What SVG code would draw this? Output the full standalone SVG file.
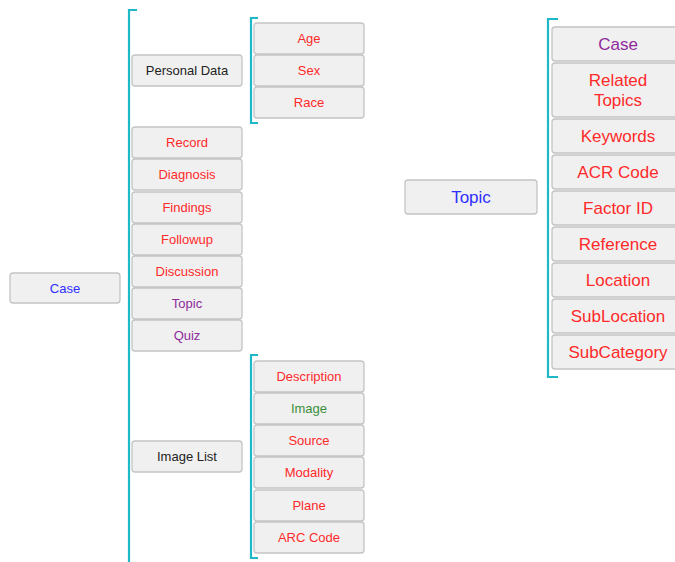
<svg xmlns="http://www.w3.org/2000/svg" width="675" height="562" viewBox="0 0 675 562">
<style>
.b{fill:#f0f0f0;stroke:#c4c4c4;stroke-width:1.3}
.t{font-family:"Liberation Sans",Arial,sans-serif;font-size:13px;text-anchor:middle;dominant-baseline:central}
.T{font-family:"Liberation Sans",Arial,sans-serif;font-size:17px;text-anchor:middle;dominant-baseline:central}
.r{fill:#ff2a2a}.p{fill:#8e2a9c}.u{fill:#2f2fff}.k{fill:#222}.g{fill:#3a8f3a}
.br{fill:none;stroke:#1fb8c8;stroke-width:2.2}
</style>
<rect width="675" height="562" fill="#fff"/>
<g id="connectors">
<path class="br" d="M137,10 H129 V565"/>
<path class="br" d="M258,18 H251 V123 H258"/>
<path class="br" d="M258,355 H251 V558 H258"/>
<path class="br" d="M558,19 H548 V377 H558"/>
</g>
<g id="case"><rect class="b" x="10" y="273" width="110" height="30" rx="3"/><text class="t u" x="65" y="288">Case</text></g>
<g id="personal-data"><rect class="b" x="132" y="55" width="110" height="31" rx="3"/><text class="t k" x="187" y="70.5">Personal Data</text></g>
<g id="age"><rect class="b" x="254" y="23" width="110" height="31" rx="3"/><text class="t r" x="309" y="38.5">Age</text></g>
<g id="sex"><rect class="b" x="254" y="55" width="110" height="31" rx="3"/><text class="t r" x="309" y="70.5">Sex</text></g>
<g id="race"><rect class="b" x="254" y="87" width="110" height="31" rx="3"/><text class="t r" x="309" y="102.5">Race</text></g>
<g id="record"><rect class="b" x="132" y="127" width="110" height="31" rx="3"/><text class="t r" x="187" y="142.5">Record</text></g>
<g id="diagnosis"><rect class="b" x="132" y="159" width="110" height="31" rx="3"/><text class="t r" x="187" y="174.5">Diagnosis</text></g>
<g id="findings"><rect class="b" x="132" y="192" width="110" height="31" rx="3"/><text class="t r" x="187" y="207.5">Findings</text></g>
<g id="followup"><rect class="b" x="132" y="224" width="110" height="31" rx="3"/><text class="t r" x="187" y="239.5">Followup</text></g>
<g id="discussion"><rect class="b" x="132" y="256" width="110" height="31" rx="3"/><text class="t r" x="187" y="271.5">Discussion</text></g>
<g id="topic-l"><rect class="b" x="132" y="288" width="110" height="31" rx="3"/><text class="t p" x="187" y="303.5">Topic</text></g>
<g id="quiz"><rect class="b" x="132" y="320" width="110" height="31" rx="3"/><text class="t p" x="187" y="335.5">Quiz</text></g>
<g id="image-list"><rect class="b" x="132" y="441" width="110" height="31" rx="3"/><text class="t k" x="187" y="456.5">Image List</text></g>
<g id="description"><rect class="b" x="254" y="361" width="110" height="31" rx="3"/><text class="t r" x="309" y="376.5">Description</text></g>
<g id="image"><rect class="b" x="254" y="393" width="110" height="31" rx="3"/><text class="t g" x="309" y="408.5">Image</text></g>
<g id="source"><rect class="b" x="254" y="425" width="110" height="31" rx="3"/><text class="t r" x="309" y="440.5">Source</text></g>
<g id="modality"><rect class="b" x="254" y="457" width="110" height="31" rx="3"/><text class="t r" x="309" y="472.5">Modality</text></g>
<g id="plane"><rect class="b" x="254" y="490" width="110" height="31" rx="3"/><text class="t r" x="309" y="505.5">Plane</text></g>
<g id="arc-code"><rect class="b" x="254" y="522" width="110" height="31" rx="3"/><text class="t r" x="309" y="537.5">ARC Code</text></g>
<g id="topic"><rect class="b" x="405" y="180" width="132" height="34" rx="3"/><text class="T u" x="471" y="197">Topic</text></g>
<g id="r-case"><rect class="b" x="552" y="27" width="132" height="34" rx="3"/><text class="T p" x="618" y="44">Case</text></g>
<g id="related-topics"><rect class="b" x="552" y="63" width="132" height="54" rx="3"/><text class="T r" x="618" y="80">Related</text><text class="T r" x="618" y="100">Topics</text></g>
<g id="keywords"><rect class="b" x="552" y="119" width="132" height="34" rx="3"/><text class="T r" x="618" y="136">Keywords</text></g>
<g id="acr-code"><rect class="b" x="552" y="155" width="132" height="34" rx="3"/><text class="T r" x="618" y="172">ACR Code</text></g>
<g id="factor-id"><rect class="b" x="552" y="191" width="132" height="34" rx="3"/><text class="T r" x="618" y="208">Factor ID</text></g>
<g id="reference"><rect class="b" x="552" y="227" width="132" height="34" rx="3"/><text class="T r" x="618" y="244">Reference</text></g>
<g id="location"><rect class="b" x="552" y="263" width="132" height="34" rx="3"/><text class="T r" x="618" y="280">Location</text></g>
<g id="sublocation"><rect class="b" x="552" y="299" width="132" height="34" rx="3"/><text class="T r" x="618" y="316">SubLocation</text></g>
<g id="subcategory"><rect class="b" x="552" y="335" width="132" height="34" rx="3"/><text class="T r" x="618" y="352">SubCategory</text></g>
</svg>
